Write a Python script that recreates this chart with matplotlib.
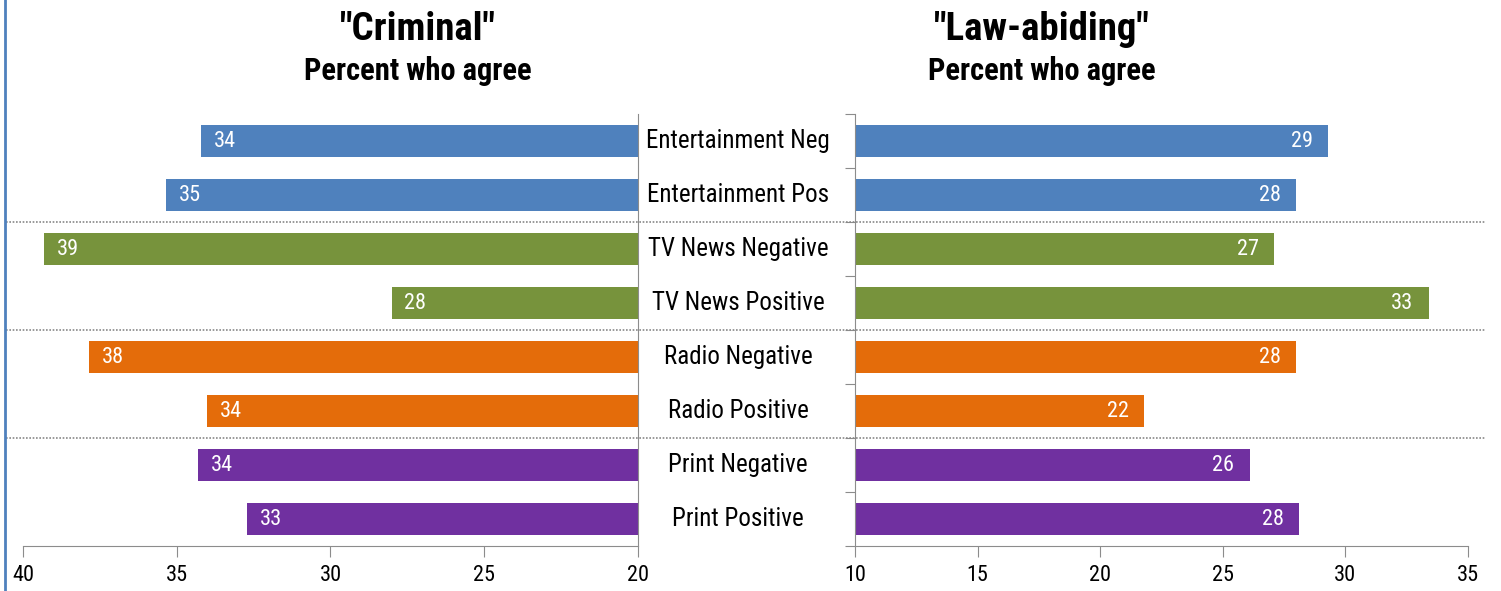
import matplotlib.pyplot as plt
import numpy as np
from matplotlib.transforms import blended_transform_factory
from matplotlib.lines import Line2D

plt.rcParams['font.family'] = ['Roboto Condensed', 'Lato', 'DejaVu Sans']

categories = ['Entertainment Neg', 'Entertainment Pos', 'TV News Negative', 'TV News Positive',
              'Radio Negative', 'Radio Positive', 'Print Negative', 'Print Positive']
criminal = [34.2, 35.35, 39.3, 28.0, 37.85, 34.0, 34.3, 32.7]
law_abiding = [29.3, 28.0, 27.1, 33.4, 28.0, 21.8, 26.1, 28.1]
group_colors = ['#4F81BD', '#4F81BD', '#77933C', '#77933C',
                '#E46C0A', '#E46C0A', '#7030A0', '#7030A0']
separators = [1.5, 3.5, 5.5]

spine_col = '#8C8C8C'

fig = plt.figure(figsize=(15.01, 5.91), dpi=100)
ax1 = fig.add_axes([0.0153, 0.0761, 0.4097, 0.731])
ax2 = fig.add_axes([0.5696, 0.0761, 0.4084, 0.731])

y = np.arange(len(categories))

# left panel: bars grow leftwards from 20
ax1.barh(y, np.array(criminal) - 20, left=20, height=0.6, color=group_colors)
ax1.set_xlim(40, 20)
ax1.set_xticks([40, 35, 30, 25, 20])
for yi, v in zip(y, criminal):
    ax1.annotate(f'{round(v)}', (v, yi), xytext=(9, 0), textcoords='offset points',
                 ha='left', va='center', color='white', fontsize=16)

# right panel
ax2.barh(y, np.array(law_abiding) - 10, left=10, height=0.6, color=group_colors)
ax2.set_xlim(10, 35)
ax2.set_xticks([10, 15, 20, 25, 30, 35])
for yi, v in zip(y, law_abiding):
    ax2.annotate(f'{round(v)}', (v, yi), xytext=(-11, 0), textcoords='offset points',
                 ha='right', va='center', color='white', fontsize=16)

for ax in (ax1, ax2):
    ax.set_ylim(7.5, -0.5)
    ax.tick_params(axis='x', direction='out', length=8, color=spine_col, labelsize=16, pad=6)
    ax.spines['top'].set_visible(False)
    ax.spines['bottom'].set_color(spine_col)
    ax.patch.set_alpha(0)

ax1.spines['left'].set_visible(False)
ax1.spines['right'].set_color(spine_col)
ax1.set_yticks([])

ax2.spines['right'].set_visible(False)
ax2.spines['left'].set_color(spine_col)
ax2.set_yticks(np.arange(-0.5, len(categories), 1))
ax2.set_yticklabels([])
ax2.tick_params(axis='y', direction='out', length=7, color=spine_col)

# category labels in the middle gap
tr = blended_transform_factory(fig.transFigure, ax1.transData)
for yi, c in zip(y, categories):
    fig.text(0.4917, yi, c, transform=tr, ha='center', va='center', fontsize=18, color='black')

# dotted separators across both panels
for s in separators:
    fig.add_artist(Line2D([0.004, 0.99], [s, s], transform=tr, color='#888888',
                          linestyle=(0, (1, 1)), linewidth=1.2))

# left border
fig.add_artist(Line2D([0.003, 0.003], [0, 1], transform=fig.transFigure, color='#4F81BD', linewidth=2))

fig.text(0.2785, 0.950, '"Criminal"', ha='center', va='center', fontsize=28, fontweight='bold')
fig.text(0.2785, 0.880, 'Percent who agree', ha='center', va='center', fontsize=22, fontweight='bold')
fig.text(0.694, 0.950, '"Law-abiding"', ha='center', va='center', fontsize=28, fontweight='bold')
fig.text(0.694, 0.880, 'Percent who agree', ha='center', va='center', fontsize=22, fontweight='bold')

fig.savefig('out.png', dpi=100)
